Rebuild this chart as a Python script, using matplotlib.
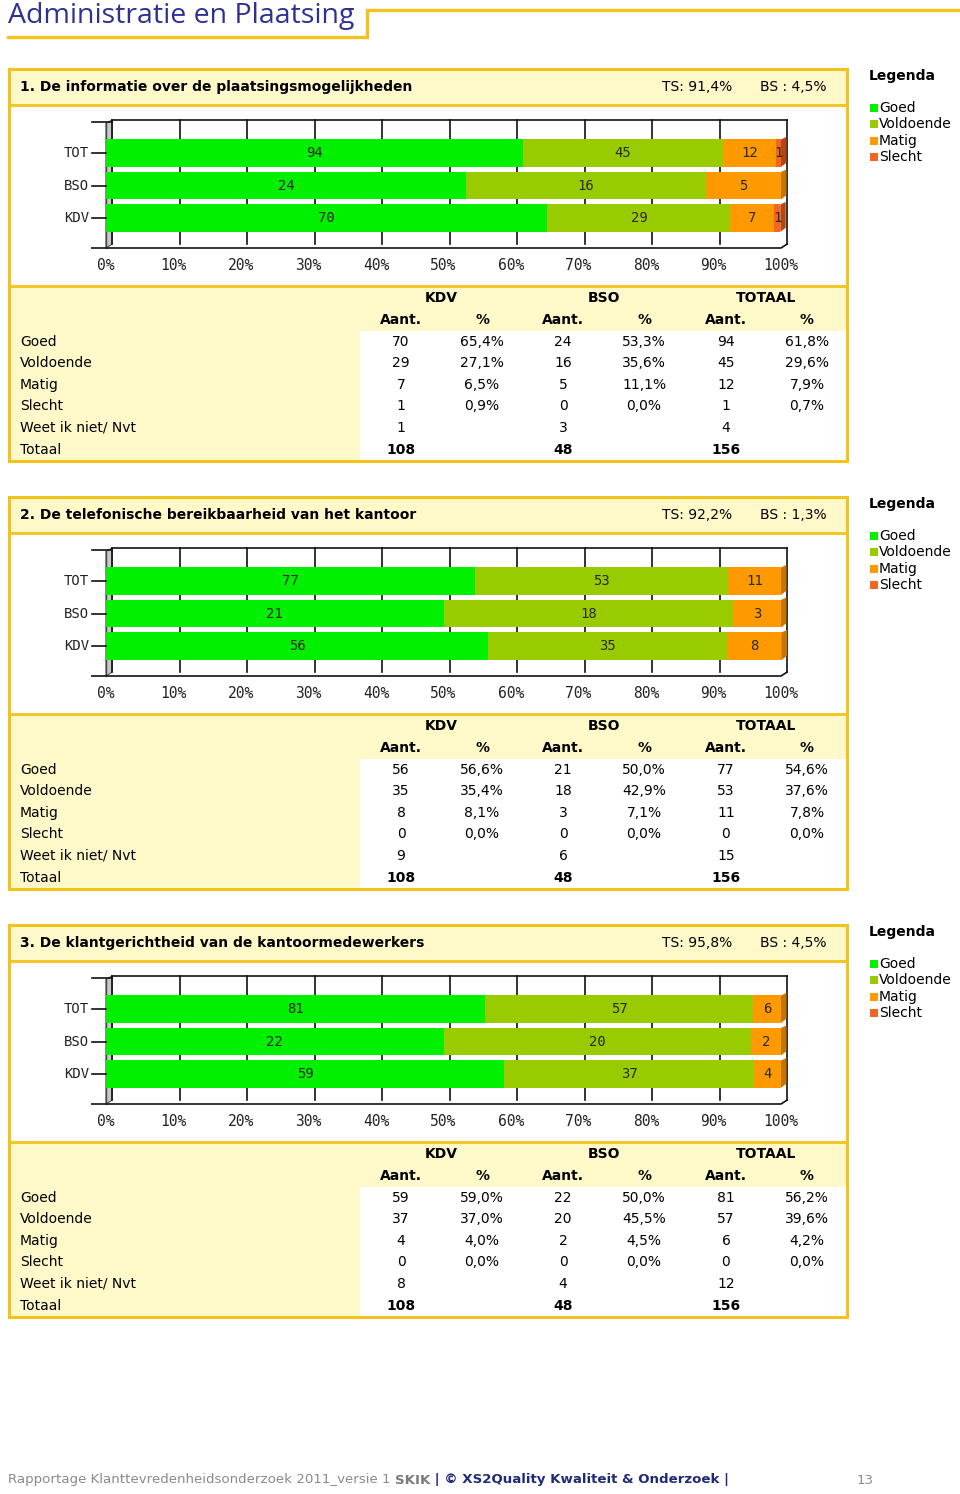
import numpy as np
import matplotlib.pyplot as plt
from matplotlib.patches import Rectangle, Polygon

# ── Data ──────────────────────────────────────────────────────
titles = ['1. De informatie over de plaatsingsmogelijkheden',
          '2. De telefonische bereikbaarheid van het kantoor',
          '3. De klantgerichtheid van de kantoormedewerkers']
ts_score = [91.4, 92.2, 95.8]
bs_score = [4.5, 1.3, 4.5]

categories = ['Goed', 'Voldoende', 'Matig', 'Slecht']
groups = ['KDV', 'BSO', 'TOT']

kdv_n = [[70, 29, 7, 1], [56, 35, 8, 0], [59, 37, 4, 0]]
bso_n = [[24, 16, 5, 0], [21, 18, 3, 0], [22, 20, 2, 0]]
tot_n = [[94, 45, 12, 1], [77, 53, 11, 0], [81, 57, 6, 0]]

kdv_pct = [[65.4, 27.1, 6.5, 0.9], [56.6, 35.4, 8.1, 0.0], [59.0, 37.0, 4.0, 0.0]]
bso_pct = [[53.3, 35.6, 11.1, 0.0], [50.0, 42.9, 7.1, 0.0], [50.0, 45.5, 4.5, 0.0]]
tot_pct = [[61.8, 29.6, 7.9, 0.7], [54.6, 37.6, 7.8, 0.0], [56.2, 39.6, 4.2, 0.0]]

weet_n = [[1, 3, 4], [9, 6, 15], [8, 4, 12]]
totaal_n = [[108, 48, 156], [108, 48, 156], [108, 48, 156]]

colors = ['#00f000', '#99cc00', '#ff9900', '#f26522']
dark = ['#00b000', '#6f9400', '#c87400', '#b8440f']
gold = '#f2c31a'
cream = '#fff9c9'
navy = '#2e3192'

W, H = 960, 1494
fig = plt.figure(figsize=(W / 100, H / 100), dpi=100)
bg = fig.add_axes([0, 0, 1, 1])
bg.set_xlim(0, W)
bg.set_ylim(H, 0)
bg.axis('off')


def fmt(v):
    return f'{v:.1f}'.replace('.', ',') + '%'


# ── Page title ────────────────────────────────────────────────
bg.text(8, 16, 'Administratie en Plaatsing', fontsize=20.5, color=navy,
        family='Open Sans', va='center', ha='left')
bg.plot([8, 367, 367, 960], [37, 37, 10, 10], color=gold, lw=2.4,
        solid_joinstyle='miter')

# ── Panels ────────────────────────────────────────────────────
for p in range(3):
    o = 428 * p

    # frame + bands
    bg.add_patch(Rectangle((9, 69 + o), 838, 36, fc=cream, ec='none'))
    bg.add_patch(Rectangle((9, 286 + o), 838, 45, fc=cream, ec='none'))
    bg.add_patch(Rectangle((9, 331 + o), 351, 130, fc=cream, ec='none'))
    bg.add_patch(Rectangle((9, 69 + o), 838, 392, fc='none', ec=gold, lw=2.2))
    bg.plot([9, 847], [105 + o, 105 + o], color=gold, lw=2)
    bg.plot([9, 847], [286 + o, 286 + o], color=gold, lw=2)

    bg.text(20, 87 + o, titles[p], fontsize=10, fontweight='bold', va='center')
    bg.text(662, 87 + o, 'TS: ' + fmt(ts_score[p]), fontsize=10, va='center')
    bg.text(760, 87 + o, 'BS : ' + fmt(bs_score[p]), fontsize=10, va='center')

    # legend
    bg.text(869, 76 + o, 'Legenda', fontsize=10, fontweight='bold', va='center')
    for i, c in enumerate(categories):
        y = 108 + 16.3 * i + o
        bg.add_patch(Rectangle((870, y - 4), 8, 8, fc=colors[i], ec='none'))
        bg.text(879, y, c, fontsize=10, va='center')

    # table
    for j, (g, xc) in enumerate(zip(['KDV', 'BSO', 'TOTAAL'], [441, 604, 766])):
        bg.text(xc, 298 + o, g, fontsize=10, fontweight='bold', ha='center', va='center')
    for xc, lab in zip([401, 482, 563, 644, 726, 806], ['Aant.', '%'] * 3):
        bg.text(xc, 320 + o, lab, fontsize=10, fontweight='bold', ha='center', va='center')

    rows = categories + ['Weet ik niet/ Nvt', 'Totaal']
    ncols = [kdv_n[p], bso_n[p], tot_n[p]]
    pcols = [kdv_pct[p], bso_pct[p], tot_pct[p]]
    for r, lab in enumerate(rows):
        y = 341.5 + 21.6 * r + o
        bg.text(20, y, lab, fontsize=10, va='center')
        for j, xc in enumerate([401, 563, 726]):
            if r < 4:
                bg.text(xc, y, str(ncols[j][r]), fontsize=10, ha='center', va='center')
                bg.text(xc + 81, y, fmt(pcols[j][r]), fontsize=10, ha='center', va='center')
            elif r == 4:
                bg.text(xc, y, str(weet_n[p][j]), fontsize=10, ha='center', va='center')
            else:
                bg.text(xc, y, str(totaal_n[p][j]), fontsize=10, fontweight='bold',
                        ha='center', va='center')

    # ── bar chart ─────────────────────────────────────────────
    left, right, top, bot = 106, 781, 120 + o, 248 + o
    ax = fig.add_axes([left / W, 1 - bot / H, (right - left) / W, (bot - top) / H])
    ax.set_xlim(0, 100)
    ax.set_ylim(-0.92, 3.02)
    ax.axis('off')
    dx = 0.9  # back wall offset (3D look)

    ax.add_patch(Polygon([[0, -0.92], [dx, -0.8], [dx, 3.02], [0, 2.92]],
                         closed=True, fc='#c8c8c8', ec='#555555', lw=0.8,
                         clip_on=False, zorder=0.3))
    for t in range(0, 101, 10):
        ax.plot([t + dx, t + dx], [-0.8, 3.02], color='#111111', lw=1.2,
                clip_on=False, zorder=0.5)
    ax.plot([dx, 100 + dx], [3.02, 3.02], color='#111111', lw=1.2, clip_on=False,
            zorder=0.5)
    ax.plot([-2.1, 100, 100 + dx], [-0.92, -0.92, -0.8], color='#111111', lw=1.2,
            clip_on=False)
    ax.plot([0, 0], [-0.92, 2.92], color='#444444', lw=1, clip_on=False, zorder=0.6)
    ax.plot([-2.1, dx], [2.95, 2.95], color='#111111', lw=1.2, clip_on=False)

    pct_rows = [kdv_pct[p], bso_pct[p], tot_pct[p]]
    n_rows = [kdv_n[p], bso_n[p], tot_n[p]]
    for gi, g in enumerate(groups):
        start = 0
        last = 0
        for ci in range(4):
            w = pct_rows[gi][ci]
            if w <= 0:
                continue
            ax.barh(gi, w, left=start, height=0.84, color=colors[ci], clip_on=False,
                    zorder=2)
            ax.text(start + w / 2, gi, str(n_rows[gi][ci]), fontsize=10,
                    family='DejaVu Sans Mono', ha='center', va='center',
                    color='#2a2a10', zorder=4)
            start += w
            last = ci
        # right side face of the bar
        ax.add_patch(Polygon([[start, gi - 0.42], [start + 0.8, gi - 0.3],
                              [start + 0.8, gi + 0.5], [start, gi + 0.42]],
                             closed=True, fc=dark[last], ec='none', clip_on=False,
                             zorder=2))
        ax.plot([-2.1, 0], [gi, gi], color='#111111', lw=1.2, clip_on=False)
        ax.text(-2.5, gi, g, fontsize=10, family='DejaVu Sans Mono', ha='right',
                va='center', color='#222222')

    for t in range(0, 101, 10):
        ax.text(t, -1.45, f'{t}%', fontsize=10.5, family='DejaVu Sans Mono',
                ha='center', va='center', color='#222222')

# ── Footer ────────────────────────────────────────────────────
fig.canvas.draw()
r = fig.canvas.get_renderer()
x = 8
pieces = [('Rapportage Klanttevredenheidsonderzoek 2011_versie 1 ', '#8a8a8a', 'normal'),
          ('SKIK', '#7a7a7a', 'bold'),
          (' | © XS2Quality Kwaliteit & Onderzoek |', '#1f2a7a', 'bold')]
for txt, col, wt in pieces:
    t = bg.text(x, 1480, txt, fontsize=9.6, color=col, fontweight=wt,
                va='center', ha='left')
    bb = t.get_window_extent(renderer=r)
    x += bb.width
bg.text(865, 1480, '13', fontsize=9.6, color='#8a8a8a', va='center', ha='center')

fig.savefig('out.png', dpi=100)
